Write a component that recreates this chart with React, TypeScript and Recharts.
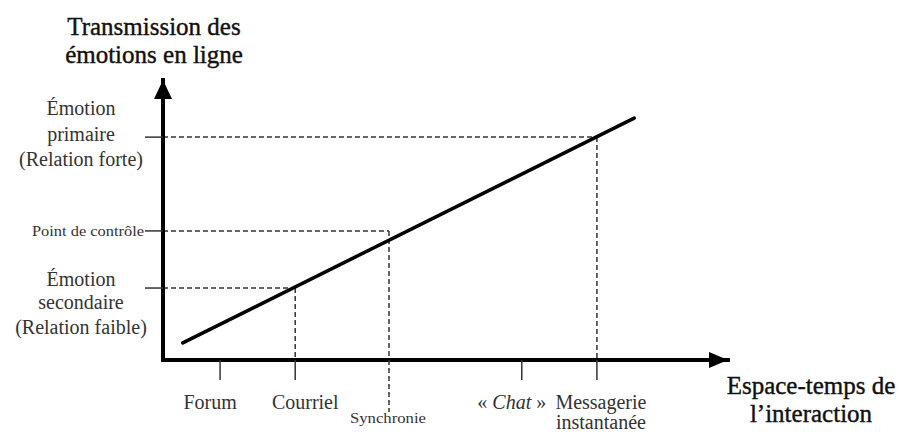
import { LineChart, Line, XAxis, YAxis, ReferenceLine, ReferenceDot } from "recharts";

document.body.style.margin = "0";

const FONT = "Liberation Serif";

// x-axis categories (position on the "espace-temps" axis, 0..100)
const categories = ["Forum", "Courriel", "Synchronie", "« Chat »", "Messagerie instantanée"];
const categoryPositions = [10.1, 23.4, 40, 63.5, 76.8];

// y-axis levels (0..100)
const levels = ["Émotion secondaire (Relation faible)", "Point de contrôle", "Émotion primaire (Relation forte)"];
const levelValues = [25.7, 46.1, 79.6];

// trend line end points
const trendX = [3.5, 83.4];
const trendY = [6.1, 86.4];

// dashed guides: category x position for each level
const guideX = [23.4, 40, 76.8];

const trendData = trendX.map((x, i) => ({ x, y: trendY[i] }));

const xLines: Record<string, string[]> = {
  "Messagerie instantanée": ["Messagerie", "instantanée"],
};
const xShift: Record<string, number> = { Forum: -10, Courriel: 10, "« Chat »": -10, "Messagerie instantanée": 4 };

const XTick = (props: any) => {
  const { x, y, payload } = props;
  const label = categories[categoryPositions.indexOf(payload.value)] ?? "";
  if (label === "Synchronie") {
    return (
      <g>
        <line x1={x} y1={y} x2={x} y2={y + 52} stroke="#333" strokeWidth={1.5} strokeDasharray="5 3" />
        <text x={x - 1} y={y + 58} textAnchor="middle" dominantBaseline="central" fontFamily={FONT} fontSize={15} fill="#333" textLength={76} lengthAdjust="spacingAndGlyphs">
          {label}
        </text>
      </g>
    );
  }
  const lines = xLines[label] ?? [label];
  const cx = x + (xShift[label] ?? 0);
  return (
    <g>
      <line x1={x} y1={y} x2={x} y2={y + 20} stroke="#333" strokeWidth={1.5} />
      {lines.map((l, i) => (
        <text key={i} x={cx} y={y + 42 + i * 20} textAnchor="middle" dominantBaseline="central" fontFamily={FONT} fontSize={20} fill="#333">
          {l === "« Chat »" ? (
            <>
              <tspan>« </tspan>
              <tspan fontStyle="italic">Chat</tspan>
              <tspan> »</tspan>
            </>
          ) : (
            l
          )}
        </text>
      ))}
    </g>
  );
};

const yLines: Record<string, string[]> = {
  "Émotion secondaire (Relation faible)": ["Émotion", "secondaire", "(Relation faible)"],
  "Émotion primaire (Relation forte)": ["Émotion", "primaire", "(Relation forte)"],
};
const yOffsets: Record<string, number[]> = {
  "Émotion secondaire (Relation faible)": [-9, 14, 39],
  "Émotion primaire (Relation forte)": [-29, -3, 22],
};

const YTick = (props: any) => {
  const { x, y, payload } = props;
  const label = levels[levelValues.indexOf(payload.value)] ?? "";
  const tick = <line x1={x - 18} y1={y} x2={x} y2={y} stroke="#333" strokeWidth={1.5} />;
  if (!yLines[label]) {
    return (
      <g>
        {tick}
        <text x={x - 19} y={y} textAnchor="end" dominantBaseline="central" fontFamily={FONT} fontSize={15} fill="#333" textLength={112} lengthAdjust="spacingAndGlyphs">
          {label}
        </text>
      </g>
    );
  }
  return (
    <g>
      {tick}
      {yLines[label].map((l, i) => (
        <text key={i} x={81} y={y + yOffsets[label][i]} textAnchor="middle" dominantBaseline="central" fontFamily={FONT} fontSize={20} fill="#333">
          {l}
        </text>
      ))}
    </g>
  );
};

const ArrowRight = ({ cx, cy }: any) => (
  <polygon points={`${cx},${cy} ${cx - 19},${cy - 8} ${cx - 19},${cy + 8}`} fill="#000" />
);
const ArrowUp = ({ cx, cy }: any) => (
  <polygon points={`${cx},${cy} ${cx - 9},${cy + 19} ${cx + 9},${cy + 19}`} fill="#000" />
);

const titleStyle: React.CSSProperties = {
  position: "absolute",
  fontFamily: FONT,
  fontSize: 25,
  lineHeight: "28px",
  color: "#111",
  textAlign: "center",
  whiteSpace: "nowrap",
  WebkitTextStroke: "0.4px #111",
};

export default function App() {
  return (
    <div style={{ position: "relative", width: 902, height: 437, background: "#fff" }}>
      <LineChart width={902} height={437} data={trendData} margin={{ top: 80, right: 174, bottom: 75, left: 161 }}>
        <XAxis
          dataKey="x"
          type="number"
          domain={[0, 100]}
          ticks={categoryPositions}
          height={2}
          tickSize={0}
          tickMargin={0}
          tickLine={false}
          tick={<XTick />}
          axisLine={{ stroke: "#000", strokeWidth: 4, strokeLinecap: "square" }}
          interval={0}
        />
        <YAxis
          type="number"
          domain={[0, 100]}
          ticks={levelValues}
          width={2}
          tickSize={0}
          tickMargin={0}
          tickLine={false}
          tick={<YTick />}
          axisLine={{ stroke: "#000", strokeWidth: 4, strokeLinecap: "square" }}
          interval={0}
        />
        {levelValues.map((v, i) => (
          <ReferenceLine
            key={`h-${i}`}
            segment={[{ x: 0, y: v }, { x: guideX[i], y: v }]}
            stroke="#333"
            strokeWidth={1.5}
            strokeDasharray="5 3"
          />
        ))}
        {levelValues.map((v, i) => (
          <ReferenceLine
            key={`v-${i}`}
            segment={[{ x: guideX[i], y: v }, { x: guideX[i], y: 0 }]}
            stroke="#333"
            strokeWidth={1.5}
            strokeDasharray="5 3"
          />
        ))}
        <Line dataKey="y" stroke="#000" strokeWidth={3.5} dot={false} activeDot={false} isAnimationActive={false} strokeLinecap="round" />
        <ReferenceDot x={100} y={0} r={0} shape={<ArrowRight />} />
        <ReferenceDot x={0} y={100} r={0} shape={<ArrowUp />} />
      </LineChart>
      <div style={{ ...titleStyle, left: 54, top: 13, width: 200 }}>
        Transmission des
        <br />
        émotions en ligne
      </div>
      <div style={{ ...titleStyle, left: 711, top: 372, width: 200 }}>
        Espace-temps de
        <br />
        l’interaction
      </div>
    </div>
  );
}
